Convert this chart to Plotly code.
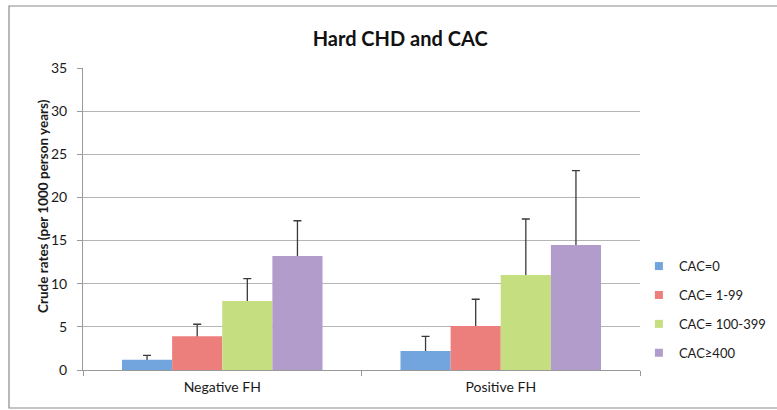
import plotly.graph_objects as go

# Crude hard CHD event rates by family history and CAC category
groups = ["Negative FH", "Positive FH"]
series = ["CAC=0", "CAC= 1-99", "CAC= 100-399", "CAC≥400"]
rates = {
    "CAC=0": [1.2, 2.2],
    "CAC= 1-99": [3.9, 5.1],
    "CAC= 100-399": [8.0, 11.0],
    "CAC≥400": [13.2, 14.5],
}
upper_err = {
    "CAC=0": [0.5, 1.7],
    "CAC= 1-99": [1.4, 3.1],
    "CAC= 100-399": [2.6, 6.5],
    "CAC≥400": [4.1, 8.6],
}
colors = {
    "CAC=0": "#72a5de",
    "CAC= 1-99": "#ec7f7c",
    "CAC= 100-399": "#c5de80",
    "CAC≥400": "#b29ccc",
}

FONT = "Lato, 'Liberation Sans', sans-serif"

fig = go.Figure()
# Upper error bars first, on transparent bars sharing each series' slot,
# so the coloured bars drawn afterwards hide the lower end of each whisker.
for name in series:
    fig.add_trace(go.Bar(
        x=groups, y=rates[name], name=name, showlegend=False,
        offsetgroup=name, hoverinfo="skip",
        marker=dict(color="rgba(0,0,0,0)", line=dict(width=0)),
        error_y=dict(type="data", symmetric=False, array=upper_err[name],
                     arrayminus=[0.2] * len(groups), color="#3a3a3a",
                     thickness=1.3, width=4),
    ))
for name in series:
    fig.add_trace(go.Bar(
        x=groups, y=rates[name], name=name, showlegend=False,
        offsetgroup=name,
        marker=dict(color=colors[name], line=dict(width=0)),
    ))
# Legend entries drawn as small square swatches
for name in series:
    fig.add_trace(go.Scatter(
        x=[None], y=[None], mode="markers", name=name,
        legendgroup=name,
        marker=dict(symbol="square", size=8, color=colors[name]),
    ))

fig.update_layout(
    width=777, height=410,
    margin=dict(l=83, r=137, t=68, b=40, autoexpand=False),
    paper_bgcolor="white", plot_bgcolor="white",
    barmode="group", bargap=0.28, bargroupgap=0,
    font=dict(family=FONT, size=13, color="#1a1a1a"),
    title=dict(text="<b>Hard CHD and CAC</b>", x=0.515, xanchor="center",
               y=0.905, yanchor="middle",
               font=dict(family=FONT, size=20, color="#111")),
    showlegend=True,
    legend=dict(x=0.998, xanchor="left", y=0.2, yanchor="middle",
                traceorder="grouped", tracegroupgap=9,
                font=dict(family=FONT, size=13, color="#1a1a1a"),
                itemwidth=30, bgcolor="rgba(0,0,0,0)"),
    xaxis=dict(showline=True, linecolor="#999", linewidth=1,
               ticks="outside", tickson="boundaries", ticklen=5,
               tickcolor="#999", showgrid=False, ticklabelstandoff=4,
               tickfont=dict(size=14)),
    yaxis=dict(range=[0, 35], dtick=5, showline=True, linecolor="#999",
               linewidth=1, ticks="outside", ticklen=5, tickcolor="#999",
               showgrid=True, gridcolor="#b5b5b5", gridwidth=1,
               zeroline=False, tickfont=dict(size=14), ticklabelstandoff=7),
    annotations=[dict(text="<b>Crude rates (per 1000 person years)</b>",
                      xref="paper", yref="paper",
                      x=(43 - 83) / 557, y=(370 - 206) / 302,
                      xanchor="center", yanchor="middle", textangle=-90,
                      showarrow=False, font=dict(size=13.5))],
    shapes=[dict(type="rect", xref="paper", yref="paper",
                 x0=(9 - 83) / 557, x1=(790 - 83) / 557,
                 y0=-(408 - 370) / 302, y1=(370 - 6) / 302,
                 line=dict(color="#8a8a8a", width=1.2), layer="below")],
)

fig.write_html("out.html")
